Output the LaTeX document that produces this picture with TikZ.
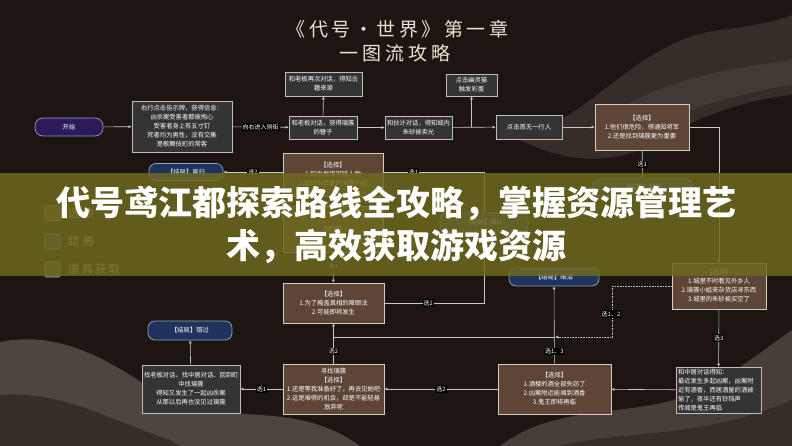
\documentclass[tikz,border=0pt]{standalone}
\usepackage{fontspec}
\setmainfont{Noto Sans CJK SC}
\usetikzlibrary{arrows.meta,calc}
\definecolor{bg}{RGB}{28,21,18}
\definecolor{gfill}{RGB}{52,52,52}
\definecolor{gline}{RGB}{190,190,190}
\definecolor{bfill}{RGB}{94,69,54}
\definecolor{bline}{RGB}{215,205,195}
\definecolor{navy}{RGB}{30,52,92}
\definecolor{navyline}{RGB}{150,165,185}
\definecolor{purp}{RGB}{45,26,88}
\definecolor{purpline}{RGB}{160,145,210}
\definecolor{edgec}{RGB}{200,200,200}
\definecolor{titlec}{RGB}{236,226,206}
\definecolor{bannerc}{RGB}{110,105,30}
\definecolor{wave1}{RGB}{78,70,62}
\definecolor{wave2}{RGB}{52,45,40}
\definecolor{itemc}{RGB}{60,85,40}
\newcommand{\tcA}[1]{\makebox[22.5pt]{#1}}
\newcommand{\tcB}[1]{\makebox[23pt]{#1}}
\tikzset{
  txt/.style={font=\fontsize{6.3}{9}\selectfont, text=white, align=center, inner xsep=2pt, inner ysep=1pt},
  gbox/.style={txt, draw=gline, fill=gfill, line width=0.7pt},
  bbox/.style={txt, draw=bline, fill=bfill, line width=0.7pt},
  endbox/.style={txt, draw=navyline, fill=navy, line width=0.7pt, rounded corners=7pt},
  startbox/.style={txt, draw=purpline, fill=purp, line width=0.7pt, rounded corners=8pt},
  edge/.style={draw=edgec, line width=0.6pt, -{Latex[length=3pt,width=3pt]}},
  plain/.style={draw=edgec, line width=0.6pt},
  lbl/.style={font=\fontsize{6}{7}\selectfont, text=white, fill=black, inner sep=1pt},
  legbox/.style={draw=white!75!black, line width=0.6pt, rounded corners=1pt, minimum size=15pt, inner sep=0pt},
  legtxt/.style={font=\fontsize{11.5}{12}\selectfont, text=white!85!black, anchor=west, inner sep=0pt},
  titletxt/.style={font=\fontsize{19}{20}\selectfont, text=titlec, inner sep=0pt},
  bannertxt/.style={font=\fontsize{34}{36}\bfseries, text=white, inner sep=0pt}
}
\begin{document}
\begin{tikzpicture}[x=1pt,y=-1pt]
\useasboundingbox (0,0) rectangle (792,446);
\fill[bg] (0,0) rectangle (792,446);
% background waves
\fill[wave2] (520,140) .. controls (600,110) and (640,40) .. (720,30) .. controls (760,25) and (780,20) .. (792,15) -- (792,95) .. controls (740,100) and (690,120) .. (640,150) .. controls (600,165) and (560,160) .. (520,140) -- cycle;
\fill[wave1,opacity=0.5] (600,120) .. controls (660,80) and (720,70) .. (792,60) -- (792,85) .. controls (730,95) and (680,110) .. (640,135) -- cycle;
\fill[wave1] (0,342) .. controls (60,330) and (110,360) .. (160,395) .. controls (210,430) and (290,395) .. (360,446) -- (0,446) -- cycle;
\fill[wave2] (0,395) .. controls (60,390) and (110,420) .. (170,440) -- (180,446) -- (0,446) -- cycle;
\fill[wave1,opacity=0.85] (500,446) .. controls (560,400) and (640,420) .. (700,390) .. controls (740,370) and (770,345) .. (792,330) -- (792,446) -- cycle;
\fill[wave2] (560,446) .. controls (620,430) and (700,440) .. (792,400) -- (792,446) -- cycle;
% title
\node[titletxt] (t1) at (397.5,29) {\tcA{《}\tcA{代}\tcA{号}\tcA{·}\tcA{世}\tcA{界}\tcA{》}\tcA{第}\tcA{一}\tcA{章}};
\node[titletxt] (t2) at (395,53) {\tcB{一}\tcB{图}\tcB{流}\tcB{攻}\tcB{略}};
% nodes
\node[startbox, minimum width=68pt, minimum height=18pt] (start) at (69,127) {开始};
\node[gbox, text width=96pt, minimum height=51pt] (A) at (182,126.5) {右行点击告示牌，获得信息：\\凶杀案受害者都被掏心\\受害者身上有五寸钉\\死者均为男性，没有交集\\是歌舞伎町的常客};
\node[gbox, text width=64pt, minimum height=23pt] (B) at (323,127.5) {和老板对话，获得璃簇\\的簪子};
\node[gbox, text width=73pt, minimum height=24pt] (C) at (323.5,84) {和老板再次对话，得知古\\籍来源};
\node[gbox, text width=63pt, minimum height=23pt] (D) at (418.5,127.5) {和伙计对话，得知城内\\朱砂被卖光};
\node[gbox, text width=47pt, minimum height=22pt] (E) at (471.5,85) {点击幽灵猫\\触发彩蛋};
\node[gbox, text width=62pt, minimum height=24pt] (F) at (529,127) {点击首无一行人};
\node[bbox, text width=90pt, minimum height=46pt] (G) at (642,127) {【选择】\\1.他们很危险，得通知将军\\2.还是找到璃簇更为重要};
\node[endbox, minimum width=99pt, minimum height=17pt] (P) at (642.5,187.5) {【结局】秘域};
\node[bbox, text width=90pt, minimum height=46pt] (H) at (719,286) {【选择】\\1.城里不时看见外乡人\\2.璃簇小姐来杂货店寻东西\\3.城里的朱砂被买空了};
\node[gbox, text width=81pt, minimum height=46pt, align=left] (I) at (718.5,390) {和中居对话得知：\\最近发生多起凶案，凶案附\\近有酒香，而居酒屋的酒被\\偷了，夜半还有铃铛声\\传闻是鬼王再临};
\node[bbox, text width=109pt, minimum height=50pt] (J) at (554.5,389) {【选择】\\1.酒楼的酒全部失窃了\\2.凶案附近能闻到酒香\\3.鬼王即将再临};
\node[endbox, minimum width=90pt, minimum height=18pt] (Q) at (554,277) {【结局】眼泪};
\node[bbox, text width=97pt, minimum height=40pt] (L) at (333.5,303) {【选择】\\1.为了掩盖真相的障眼法\\2.可能即将发生};
\node[bbox, text width=96pt, minimum height=43pt] (M1) at (333,174.5) {【选择】\\1.町中发现可疑人物\\2.造访杂货屋的璃簇小姐};
\node[bbox, text width=96pt, minimum height=46pt, anchor=north] (M2) at (333,206) {【选择】};
\node[endbox, minimum width=88pt, minimum height=19pt] (N) at (484,222.5) {【结局】相认};
\node[endbox, minimum width=74pt, minimum height=17pt] (R) at (186,172) {【结局】离归};
\node[bbox, text width=97pt, minimum height=50pt] (K) at (333.5,389) {寻找璃簇\\【选择】\\1.还是等我准备好了，再去见她吧\\2.这是难得的机会，却是不能轻易\\放弃呢};
\node[gbox, text width=94pt, minimum height=48pt] (O) at (191,389) {找老板对话、找中居对话、回到町\\中找璃簇\\得知又发生了一起凶杀案\\从那以后再也没见过璃簇};
\node[endbox, minimum width=84pt, minimum height=19pt] (S) at (190,330.5) {【结局】错过};
\coordinate (jn) at (555,337);
% connectors
\draw[edge] (start) -- (A);
\draw[edge] (A) -- node[lbl]{向右进入侧街} (B);
\draw[edge] (B) -- (C);
\draw[edge] (B) -- (D);
\draw[edge] (D) -- (F);
\draw[edge] (E |- D.east) -- (E);
\draw[edge] (F) -- (G);
\draw[edge] (G) -- node[lbl]{选1} (P);
\draw[edge] (G.east) -| (H.north);
\draw[edge] (H) -- node[lbl]{选3} (I);
\draw[edge] (I) -- (J);
\draw[edge] (J) -- node[lbl,pos=0.16]{选1、3} (Q);
\draw[plain] (jn) -- (jn -| L.south);
\draw[edge, densely dotted] (H.west) -- ++(-59,0) |- (jn);
\node[lbl] at (611,314) {选1、2};
\draw[edge] (K) -- node[lbl,pos=0.3]{选2} (L);
\draw[plain] (N.south) |- node[lbl,pos=0.78]{选2} (L.east);
\draw[edge] (M1.east |- R.east) -| node[lbl,pos=0.15]{选1} (N.north);
\draw[edge] (M1.west |- R.east) -- node[lbl]{选2} (R.east);
\draw[edge] (M1) -- (M2);
\draw[edge] (M2) -- node[lbl,pos=0.45]{选1} (L);
\draw[edge] (J) -- node[lbl]{选2} (K);
\draw[edge] (K) -- node[lbl]{选1} (O);
\draw[edge] (O) -- (S);
% legend
\node[legbox, fill=bfill] (lg1) at (52.5,213.5) {};
\node[legbox, fill=navy] (lg2) at (52.5,241.5) {};
\node[legbox, fill=itemc] (lg3) at (52.5,269.5) {};
\node[legtxt] (lt1) at (68,213.5) {选\hspace{3pt}项};
\node[legtxt] (lt2) at (68,241.5) {结\hspace{3pt}局};
\node[legtxt] (lt3) at (68,269.5) {道\hspace{2pt}具\hspace{2pt}获\hspace{2pt}取};
% banner
\fill[bannerc, opacity=0.85] (0,173) rectangle (792,276);
\node[bannertxt] (h1) at (396,203) {代号鸢江都探索路线全攻略，掌握资源管理艺};
\node[bannertxt] (h2) at (396,246) {术，高效获取游戏资源};
\end{tikzpicture}
\end{document}
